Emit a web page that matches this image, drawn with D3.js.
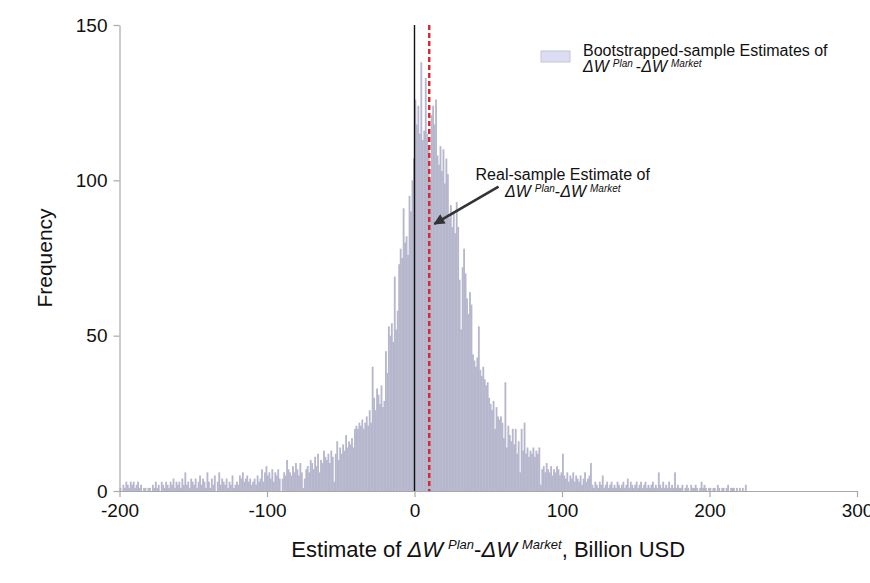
<!DOCTYPE html>
<html>
<head>
<meta charset="utf-8">
<script src="https://cdn.jsdelivr.net/npm/d3@7/dist/d3.min.js"></script>
<style>
  html, body { margin: 0; padding: 0; background: #fff; }
  svg { display: block; font-family: "Liberation Sans", Arial, Helvetica, sans-serif; }
</style>
</head>
<body>
<svg id="chart" width="870" height="583"></svg>
<script>
// Histogram of bootstrapped estimates, 1-billion-wide bins starting at -200
const binStart = -200;
const binWidth = 1;

// counts for bins -200 .. -101
const countsLeftTail = [
  1, 0, 2, 1, 3, 2, 1, 3, 2, 3,
  1, 2, 3, 1, 2, 0, 1, 1, 0, 1,
  1, 0, 2, 1, 3, 1, 2, 0, 3, 2,
  1, 3, 2, 1, 3, 2, 4, 1, 3, 2,
  3, 1, 4, 2, 6, 2, 3, 1, 4, 3,
  2, 4, 1, 3, 5, 2, 4, 3, 1, 6,
  3, 1, 4, 2, 5, 0, 3, 6, 2, 4,
  3, 2, 4, 1, 3, 2, 5, 1, 2, 3,
  2, 5, 4, 6, 3, 4, 5, 3, 4, 2,
  3, 4, 2, 5, 3, 4, 7, 3, 6, 8
];
// counts for bins -100 .. -1
const countsLeftCore = [
  5, 6, 4, 7, 3, 6, 5, 7, 4, 0,
  4, 6, 5, 10, 7, 6, 5, 8, 6, 9,
  7, 5, 9, 6, 1, 4, 7, 8, 6, 10,
  9, 7, 11, 8, 12, 6, 10, 9, 13, 11,
  10, 12, 9, 13, 11, 3, 12, 16, 10, 14,
  12, 15, 13, 18, 14, 16, 15, 17, 14, 20,
  21, 20, 22, 21, 23, 20, 22, 24, 21, 26,
  22, 40, 30, 26, 33, 31, 28, 34, 27, 29,
  45, 38, 53, 50, 54, 48, 69, 52, 58, 73,
  78, 75, 91, 80, 82, 76, 95, 90, 100, 107
];
// counts for bins 0 .. 99
const countsRightCore = [
  126, 118, 124, 115, 138, 113, 116, 133, 115, 111,
  100, 121, 124, 118, 126, 108, 105, 111, 103, 110,
  99, 107, 102, 88, 92, 85, 90, 83, 93, 85,
  68, 52, 72, 78, 70, 62, 57, 64, 60, 44,
  42, 40, 43, 53, 39, 37, 40, 36, 34, 35,
  30, 28, 26, 29, 20, 27, 24, 23, 24, 22,
  17, 35, 14, 21, 18, 16, 20, 15, 20, 12,
  16, 6, 20, 13, 22, 12, 14, 11, 13, 12,
  14, 11, 13, 12, 14, 2, 7, 8, 6, 9,
  7, 6, 8, 5, 7, 6, 8, 7, 5, 6
];
// counts for bins 100 .. 224
const countsRightTail = [
  12, 5, 4, 6, 3, 5, 4, 6, 3, 5,
  4, 3, 5, 2, 4, 6, 3, 4, 5, 9,
  2, 1, 3, 2, 1, 3, 2, 5, 1, 2,
  3, 1, 2, 3, 1, 2, 1, 3, 2, 1,
  2, 3, 1, 2, 4, 1, 3, 2, 1, 2,
  3, 1, 2, 3, 1, 2, 3, 1, 2, 1,
  2, 3, 1, 2, 1, 6, 2, 1, 3, 1,
  2, 1, 3, 1, 2, 1, 6, 1, 2, 1,
  1, 2, 0, 1, 2, 1, 0, 2, 1, 1,
  2, 1, 0, 1, 3, 1, 2, 1, 0, 1,
  1, 0, 1, 1, 0, 2, 1, 0, 1, 1,
  0, 1, 2, 0, 1, 1, 1, 0, 1, 0,
  1, 0, 1, 0, 2
];

const xTicks = [-200, -100, 0, 100, 200, 300];
const yTicks = [0, 50, 100, 150];

// reference lines: zero difference and the real-sample estimate
const zeroLine = 0;
const realEstimate = 10;

// arrow of the annotation, in data units [estimate, frequency]
const arrowFrom = [57, 98];
const arrowTo = [13.5, 86];

const counts = [].concat(countsLeftTail, countsLeftCore, countsRightCore, countsRightTail);
const bins = counts.map((c, i) => ({
  x0: binStart + i * binWidth,
  x1: binStart + (i + 1) * binWidth,
  count: c
}));

const svg = d3.select("#chart");
const plotLeft = 119.5, plotRight = 857, plotTop = 25, plotBottom = 491;

const x = d3.scaleLinear().domain([-200, 300]).range([plotLeft, plotRight]);
const y = d3.scaleLinear().domain([0, 150]).range([plotBottom, plotTop]);

const axisColor = "#a8a8a8";
const barFill = "#b6b6cd";

// bars
svg.append("g")
  .selectAll("rect")
  .data(bins)
  .join("rect")
  .attr("x", d => x(d.x0))
  .attr("width", d => x(d.x1) - x(d.x0) + 0.35)
  .attr("y", d => y(d.count))
  .attr("height", d => y(0) - y(d.count))
  .attr("fill", barFill);

// axes (plain hyphen for negative labels)
const plainFormat = d => String(d);
const xAxis = svg.append("g")
  .attr("transform", `translate(0,${plotBottom})`)
  .call(d3.axisBottom(x).tickValues(xTicks).tickSize(6).tickSizeOuter(0).tickPadding(7).tickFormat(plainFormat));
const yAxis = svg.append("g")
  .attr("transform", `translate(${plotLeft},0)`)
  .call(d3.axisLeft(y).tickValues(yTicks).tickSize(6).tickSizeOuter(0).tickPadding(6).tickFormat(plainFormat));

[xAxis, yAxis].forEach(g => {
  g.select(".domain").attr("stroke", axisColor).attr("stroke-width", 1.2);
  g.selectAll(".tick line").attr("stroke", axisColor).attr("stroke-width", 1.2);
  g.selectAll(".tick text")
    .attr("fill", "#111")
    .style("font-size", "19px")
    .style("font-family", '"Liberation Sans", Arial, sans-serif');
});

// vertical reference lines
svg.append("line")
  .attr("x1", x(zeroLine)).attr("x2", x(zeroLine))
  .attr("y1", y(150)).attr("y2", y(0))
  .attr("stroke", "#111").attr("stroke-width", 1.4);
svg.append("line")
  .attr("x1", x(realEstimate)).attr("x2", x(realEstimate))
  .attr("y1", y(150)).attr("y2", y(0))
  .attr("stroke", "#d8262b").attr("stroke-width", 2.4)
  .attr("stroke-dasharray", "5,3");

// writes ΔW^Plan - ΔW^Market with superscripts
function deltaLabel(textSel, big, small, rise, gap, gapBeforeDash) {
  textSel.append("tspan").attr("font-style", "italic").attr("font-size", big).text("ΔW");
  textSel.append("tspan").attr("font-style", "italic").attr("font-size", small)
    .attr("dx", gap).attr("dy", -rise).text("Plan");
  textSel.append("tspan").attr("font-size", big).attr("dx", gapBeforeDash).attr("dy", rise).text("-");
  textSel.append("tspan").attr("font-style", "italic").attr("font-size", big).text("ΔW");
  textSel.append("tspan").attr("font-style", "italic").attr("font-size", small)
    .attr("dx", gap).attr("dy", -rise).text("Market");
}

// axis titles
const xTitle = svg.append("text")
  .attr("x", (plotLeft + plotRight) / 2).attr("y", 557)
  .attr("text-anchor", "middle").attr("font-size", 22).attr("fill", "#111");
xTitle.append("tspan").text("Estimate of ");
deltaLabel(xTitle, 22, 13, 8, 5, 0);
xTitle.append("tspan").attr("dy", 8).attr("font-size", 22).text(", Billion USD");

svg.append("text")
  .attr("transform", `translate(52,${(plotTop + plotBottom) / 2}) rotate(-90)`)
  .attr("text-anchor", "middle").attr("font-size", 21).attr("fill", "#111")
  .text("Frequency");

// legend
svg.append("rect")
  .attr("x", 541).attr("y", 51).attr("width", 29).attr("height", 11)
  .attr("fill", "#dcdcf2").attr("stroke", "#c4c4de").attr("stroke-width", 1);
svg.append("text")
  .attr("x", 583).attr("y", 56).attr("font-size", 16).attr("fill", "#111")
  .text("Bootstrapped-sample Estimates of");
const legendLine2 = svg.append("text")
  .attr("x", 583).attr("y", 72).attr("fill", "#111");
deltaLabel(legendLine2, 16, 10, 5, 4, 3);

// annotation with arrow
const defs = svg.append("defs");
defs.append("marker")
  .attr("id", "arrowhead")
  .attr("viewBox", "0 0 10 10")
  .attr("refX", 9).attr("refY", 5)
  .attr("markerWidth", 5).attr("markerHeight", 4.2)
  .attr("markerUnits", "strokeWidth")
  .attr("orient", "auto")
  .append("path").attr("d", "M0,0L10,5L0,10Z").attr("fill", "#333");

svg.append("line")
  .attr("x1", x(arrowFrom[0])).attr("y1", y(arrowFrom[1]))
  .attr("x2", x(arrowTo[0])).attr("y2", y(arrowTo[1]))
  .attr("stroke", "#333").attr("stroke-width", 2.6)
  .attr("marker-end", "url(#arrowhead)");

const ax = x(arrowFrom[0]), ay = y(arrowFrom[1]);
svg.append("text")
  .attr("x", ax - 23).attr("y", ay - 7).attr("font-size", 16).attr("fill", "#111")
  .text("Real-sample Estimate of");
const annLine2 = svg.append("text")
  .attr("x", ax + 122).attr("y", ay + 10).attr("text-anchor", "end").attr("fill", "#111");
deltaLabel(annLine2, 16, 10, 5, 4, 0);
</script>
</body>
</html>
